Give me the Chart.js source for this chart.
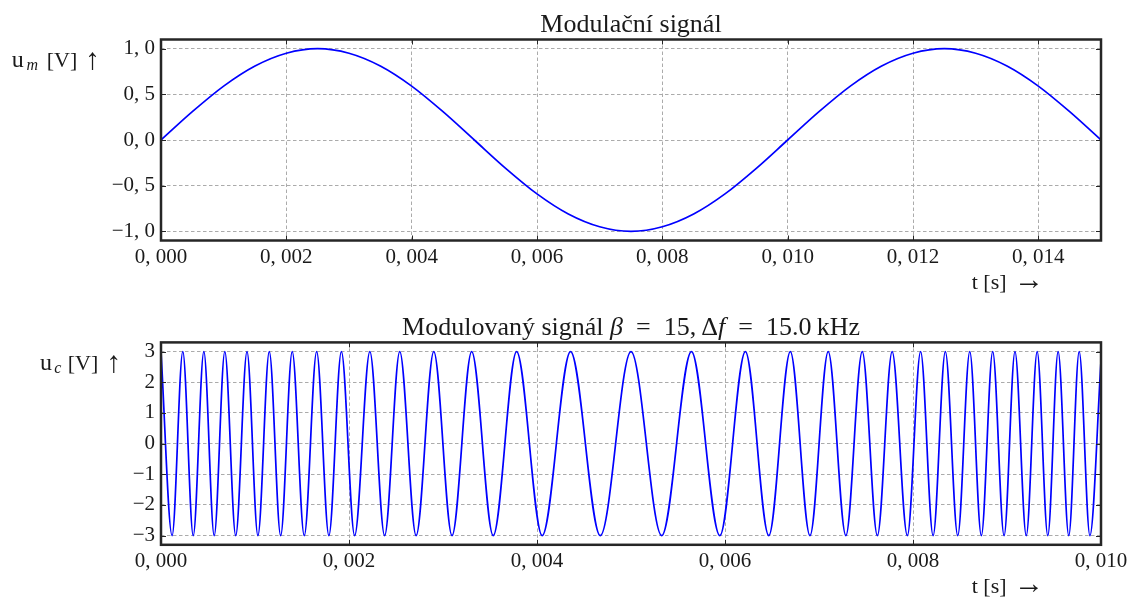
<!DOCTYPE html>
<html>
<head>
<meta charset="utf-8">
<title>Modulační signál</title>
<script src="https://cdn.jsdelivr.net/npm/chart.js@4.4.1/dist/chart.umd.min.js"></script>
<style>
    body { margin: 0; background: #ffffff; }
    canvas { position: absolute; left: 0; }
    #mod-chart { top: 0; }
    #fm-chart { top: 300px; }
</style>
</head>
<body>
<canvas id="mod-chart" width="1129" height="300"></canvas>
<canvas id="fm-chart" width="1129" height="303"></canvas>
<script>
// modulating signal, read every 0.5 ms
var mod_t = [0, 0.0005, 0.001, 0.0015, 0.002, 0.0025, 0.003, 0.0035, 0.004, 0.0045,
             0.005, 0.0055, 0.006, 0.0065, 0.007, 0.0075, 0.008, 0.0085, 0.009, 0.0095,
             0.010, 0.0105, 0.011, 0.0115, 0.012, 0.0125, 0.013, 0.0135, 0.014, 0.0145, 0.015];
var mod_u = [0, 0.31, 0.59, 0.81, 0.95, 1.0, 0.95, 0.81, 0.59, 0.31,
             0, -0.31, -0.59, -0.81, -0.95, -1.0, -0.95, -0.81, -0.59, -0.31,
             0, 0.31, 0.59, 0.81, 0.95, 1.0, 0.95, 0.81, 0.59, 0.31, 0];

// modulated signal: peaks and troughs
var fm_t = [0, 0.000118, 0.000232, 0.000343, 0.000456, 0.000566, 0.000679, 0.000795, 0.000915, 0.001031,
            0.001152, 0.001273, 0.001396, 0.001524, 0.001656, 0.001786, 0.001919, 0.002060, 0.002222, 0.002379,
            0.002540, 0.002714, 0.002902, 0.003096, 0.003305, 0.003534, 0.003783, 0.004055, 0.004357, 0.004673,
            0.005000, 0.005327, 0.005643, 0.005945, 0.006217, 0.006466, 0.006695, 0.006904, 0.007098, 0.007286,
            0.007460, 0.007621, 0.007778, 0.007940, 0.008081, 0.008214, 0.008344, 0.008476, 0.008604, 0.008727,
            0.008848, 0.008969, 0.009085, 0.009205, 0.009321, 0.009434, 0.009544, 0.009657, 0.009768, 0.009882,
            0.010000];
var fm_u = [3, -3, 3, -3, 3, -3, 3, -3, 3, -3,
            3, -3, 3, -3, 3, -3, 3, -3, 3, -3,
            3, -3, 3, -3, 3, -3, 3, -3, 3, -3,
            3, -3, 3, -3, 3, -3, 3, -3, 3, -3,
            3, -3, 3, -3, 3, -3, 3, -3, 3, -3,
            3, -3, 3, -3, 3, -3, 3, -3, 3, -3,
            2.7];

var mod_x_ticks = [0, 0.002, 0.004, 0.006, 0.008, 0.010, 0.012, 0.014];
var mod_y_ticks = [-1.0, -0.5, 0, 0.5, 1.0];
var fm_x_ticks = [0, 0.002, 0.004, 0.006, 0.008, 0.010];
var fm_y_ticks = [-3, -2, -1, 0, 1, 2, 3];

var font_family = '"Liberation Serif", "DejaVu Serif", serif';
var text_color = '#1a1a1a';
var line_color = '#0000ff';
var grid_color = '#ababab';
var frame_color = '#262626';

function fmt(v, digits) {
    return v.toFixed(digits).replace('.', ', ').replace('-', '\u2212');
}

function toPoints(xs, ys) {
    return xs.map(function (x, i) { return {x: x, y: ys[i]}; });
}

function setTicks(list) {
    return function (scale) {
        scale.ticks = list.map(function (v) { return {value: v}; });
    };
}

function runFont(r) {
    return (r.italic ? 'italic ' : '') + (r.size || 22) + 'px ' + font_family;
}

// draw runs of text, either at fixed x or one after another
function drawRuns(ctx, runs, x, y, center) {
    var widths = runs.map(function (r) {
        ctx.font = runFont(r);
        return ctx.measureText(r.text).width;
    });
    var cursor = x;
    if (center) cursor = x - widths.reduce(function (a, b) { return a + b; }, 0) / 2;
    runs.forEach(function (r, i) {
        ctx.font = runFont(r);
        var px = (r.x !== undefined) ? r.x : cursor;
        ctx.fillText(r.text, px, y + (r.dy || 0));
        cursor = px + widths[i];
    });
}

var textPlugin = {
    id: 'texts',
    afterDraw: function (chart, args, opts) {
        var ctx = chart.ctx;
        var a = chart.chartArea;
        ctx.save();
        ctx.fillStyle = text_color;
        ctx.textBaseline = 'alphabetic';
        ctx.textAlign = 'left';
        drawRuns(ctx, opts.title, (a.left + a.right) / 2, opts.titleY, true);
        drawRuns(ctx, opts.ylabel, 0, opts.ylabelY, false);
        drawRuns(ctx, opts.xlabel, 0, opts.xlabelY, false);
        ctx.restore();
    }
};

var framePlugin = {
    id: 'frame',
    afterDatasetsDraw: function (chart) {
        var ctx = chart.ctx;
        var a = chart.chartArea;
        var xs = chart.scales.x, ys = chart.scales.y;
        ctx.save();
        ctx.strokeStyle = frame_color;
        ctx.lineWidth = 1;
        ctx.beginPath();
        xs.ticks.forEach(function (t) {
            var px = Math.round(xs.getPixelForValue(t.value)) + 0.5;
            ctx.moveTo(px, a.bottom); ctx.lineTo(px, a.bottom - 5);
            ctx.moveTo(px, a.top); ctx.lineTo(px, a.top + 5);
        });
        ys.ticks.forEach(function (t) {
            var py = Math.round(ys.getPixelForValue(t.value)) + 0.5;
            ctx.moveTo(a.left, py); ctx.lineTo(a.left + 5, py);
            ctx.moveTo(a.right, py); ctx.lineTo(a.right - 5, py);
        });
        ctx.stroke();
        ctx.lineWidth = 2.5;
        ctx.strokeRect(a.left, a.top, a.right - a.left, a.bottom - a.top);
        ctx.restore();
    }
};

function makeConfig(points, xmin, xmax, ymin, ymax, xticks, yticks, ydigits, padTop, xHeight, texts) {
    return {
        type: 'line',
        data: {
            datasets: [{
                data: points,
                borderColor: line_color,
                borderWidth: 1.7,
                pointRadius: 0,
                fill: false,
                cubicInterpolationMode: 'monotone'
            }]
        },
        options: {
            responsive: false,
            animation: false,
            events: [],
            layout: { padding: { top: padTop, right: 28, left: 0, bottom: 0 } },
            scales: {
                x: {
                    type: 'linear',
                    min: xmin,
                    max: xmax,
                    afterBuildTicks: setTicks(xticks),
                    afterFit: function (scale) {
                        scale.height = xHeight;
                        scale.paddingLeft = 0;
                        scale.paddingRight = 0;
                    },
                    ticks: {
                        autoSkip: false,
                        maxRotation: 0,
                        padding: 4,
                        color: text_color,
                        font: { family: font_family, size: 21 },
                        callback: function (v) { return fmt(v, 3); }
                    },
                    grid: { color: grid_color, lineWidth: 1, drawTicks: false },
                    border: { display: false, dash: [3.5, 2.5] }
                },
                y: {
                    type: 'linear',
                    min: ymin,
                    max: ymax,
                    afterBuildTicks: setTicks(yticks),
                    afterFit: function (scale) {
                        scale.width = 161;
                        scale.paddingTop = 0;
                        scale.paddingBottom = 0;
                    },
                    ticks: {
                        padding: 6,
                        color: text_color,
                        font: { family: font_family, size: 21 },
                        callback: function (v) { return fmt(v, ydigits); }
                    },
                    grid: { color: grid_color, lineWidth: 1, drawTicks: false },
                    border: { display: false, dash: [3.5, 2.5] }
                }
            },
            plugins: {
                legend: { display: false },
                tooltip: { enabled: false },
                texts: texts
            }
        },
        plugins: [framePlugin, textPlugin]
    };
}

var mod_chart = new Chart(document.getElementById('mod-chart'), makeConfig(
    toPoints(mod_t, mod_u), 0, 0.015, -1.1, 1.1, mod_x_ticks, mod_y_ticks, 1, 39.5, 59.5,
    {
        title: [{text: 'Modulační signál', size: 26}],
        titleY: 32,
        ylabel: [
            {text: 'u', x: 11.7, size: 24},
            {text: 'm', x: 26.5, italic: true, size: 16, dy: 3},
            {text: '[V]', x: 46.7},
            {text: '\u2191', x: 85, size: 30, dy: 2}
        ],
        ylabelY: 67,
        xlabel: [
            {text: 't', x: 971.7},
            {text: '[s]', x: 983.3},
            {text: '\u2192', x: 1014, size: 30}
        ],
        xlabelY: 289
    }
));

var fm_chart = new Chart(document.getElementById('fm-chart'), makeConfig(
    toPoints(fm_t, fm_u), 0, 0.010, -3.3, 3.3, fm_x_ticks, fm_y_ticks, 0, 42.4, 58.2,
    {
        title: [
            {text: 'Modulovaný signál ', size: 26},
            {text: 'β', size: 26, italic: true},
            {text: '\u2002=\u200215,\u2009Δ', size: 26},
            {text: 'f', size: 26, italic: true},
            {text: '\u2002=\u200215.0\u2009kHz', size: 26}
        ],
        titleY: 35,
        ylabel: [
            {text: 'u', x: 40, size: 24},
            {text: 'c', x: 54.3, italic: true, size: 16, dy: 3},
            {text: '[V]', x: 67.7},
            {text: '\u2191', x: 106.3, size: 30, dy: 2}
        ],
        ylabelY: 70,
        xlabel: [
            {text: 't', x: 971.7},
            {text: '[s]', x: 983.3},
            {text: '\u2192', x: 1014, size: 30}
        ],
        xlabelY: 293
    }
));
</script>
</body>
</html>
